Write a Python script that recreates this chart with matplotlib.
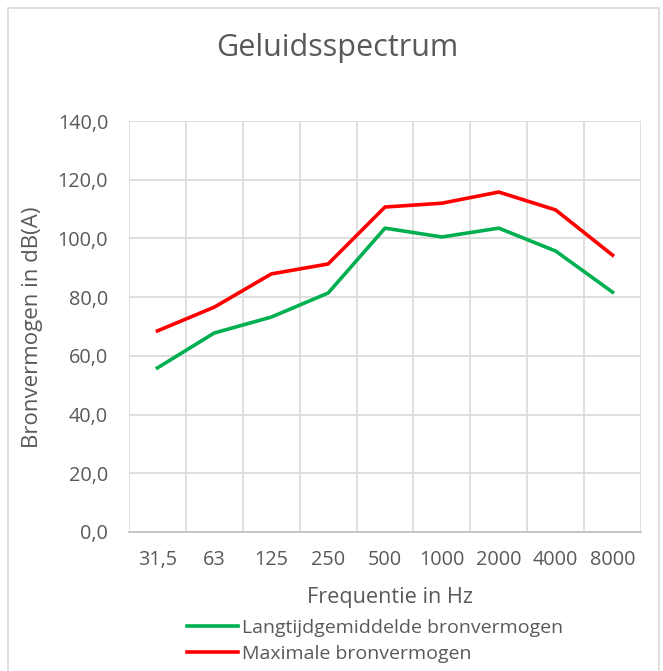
import numpy as np
import matplotlib
matplotlib.use("Agg")
from matplotlib import pyplot as plt
from matplotlib.patches import Rectangle

plt.rcParams["font.family"] = ["Open Sans", "DejaVu Sans"]

frequencies = ["31,5", "63", "125", "250", "500", "1000", "2000", "4000", "8000"]
langtijd = [55.9, 67.8, 73.2, 81.4, 103.5, 100.5, 103.5, 95.7, 81.7]
maximaal = [68.5, 76.6, 87.9, 91.3, 110.7, 112.0, 115.8, 109.7, 94.3]

text_color = "#595959"
grid_color = "#d9d9d9"

fig = plt.figure(figsize=(6.63, 6.71), dpi=100)
# chart frame
fig.patches.append(Rectangle((8 / 663, -0.01), 651 / 663, 1 - 8 / 671 + 0.01,
                             transform=fig.transFigure, fill=False,
                             edgecolor=grid_color, linewidth=1.2))

ax = fig.add_axes([129 / 663, 1 - 532 / 671, 512 / 663, 411 / 671])

x = np.arange(len(frequencies))
ax.plot(x, langtijd, color="#00b050", linewidth=2.6, label="Langtijdgemiddelde bronvermogen")
ax.plot(x, maximaal, color="#ff0000", linewidth=2.6, label="Maximale bronvermogen")

ax.set_xlim(-0.5, len(frequencies) - 0.5)
ax.set_ylim(0, 140)
yt = np.arange(0, 141, 20)
ax.set_yticks(yt)
ax.set_yticklabels([f"{v:.1f}".replace(".", ",") for v in yt])
ax.set_xticks(x)
ax.set_xticklabels(frequencies)
ax.set_xticks(np.arange(-0.5, len(frequencies)), minor=True)

ax.grid(axis="y", color=grid_color, linewidth=1.2)
ax.grid(axis="x", which="minor", color=grid_color, linewidth=1.2)
ax.set_axisbelow(True)
ax.tick_params(which="both", length=0, labelsize=14.3, colors=text_color)
ax.tick_params(axis="y", pad=15)
ax.tick_params(axis="x", pad=13)
for side in ["left", "right", "top"]:
    ax.spines[side].set_visible(False)
ax.spines["bottom"].set_color("#bfbfbf")
ax.spines["bottom"].set_linewidth(1.2)

fig.text(390 / 663, 1 - 597 / 671, "Frequentie in Hz", fontsize=15.6, color=text_color,
         ha="center", va="center")
fig.text(33 / 663, 1 - 327 / 671, "Bronvermogen in dB(A)", fontsize=16, color=text_color,
         ha="center", va="center", rotation=90)
fig.text(337 / 663, 1 - 48 / 671, "Geluidsspectrum", fontsize=22, color=text_color,
         ha="center", va="center")

fig.legend(loc="upper left", bbox_to_anchor=(187 / 663, 1 - 619 / 671), frameon=False,
           fontsize=14, labelcolor=text_color, handlelength=2.6, handletextpad=0.25,
           labelspacing=0.42, borderaxespad=0, borderpad=0)

plt.savefig("out.png", dpi=100)
